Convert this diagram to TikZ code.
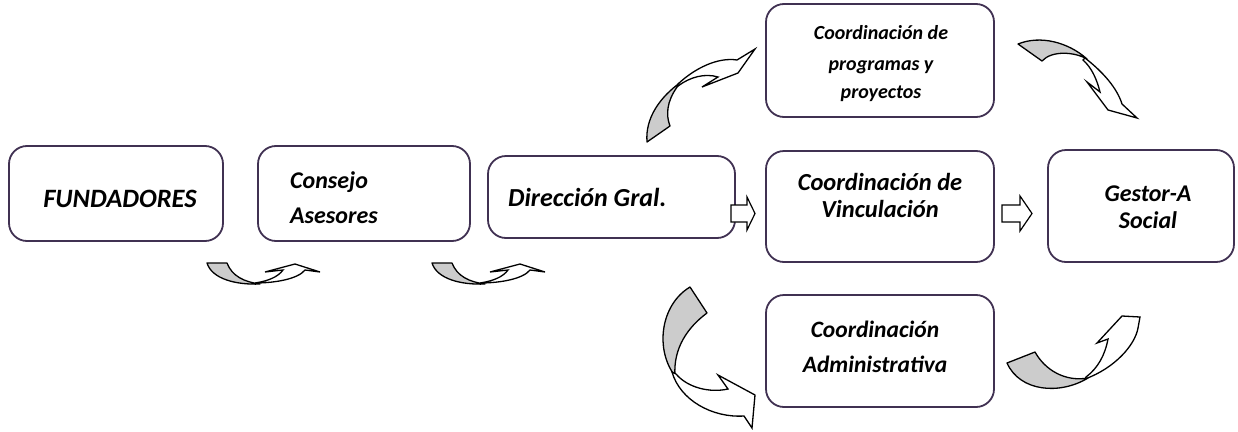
\documentclass[tikz,border=0pt]{standalone}
\usepackage{fontspec}
\setmainfont{Carlito}
\usetikzlibrary{calc}
\definecolor{boxline}{RGB}{64,49,82}
\definecolor{arrowgray}{RGB}{204,204,204}
\newcommand{\lblsize}[1]{\fontsize{#1}{#1}\selectfont\bfseries\itshape}
\begin{document}
\begin{tikzpicture}[x=1pt,y=-1pt,
  orgbox/.style={draw=boxline, line width=1.8pt, rounded corners=18pt, inner sep=0pt, outer sep=0pt, rectangle},
  lbl/.style={inner sep=0pt, anchor=base},
  lblw/.style={inner sep=0pt, anchor=base west},
  backface/.style={draw=black, fill=arrowgray, line width=1.3pt, line join=round},
  frontface/.style={draw=black, fill=white, line width=1.3pt, line join=miter},
  blockarr/.style={draw=black, fill=white, line width=1.2pt, line join=miter},
]
\useasboundingbox (0,0) rectangle (1238,431);

% boxes
\node[orgbox, minimum width=214pt, minimum height=95pt] (fund) at (116,193.5) {};
\node[orgbox, minimum width=212pt, minimum height=95pt] (cons) at (364,193.5) {};
\node[orgbox, minimum width=247pt, minimum height=82pt] (dir) at (611.5,197) {};
\node[orgbox, minimum width=228pt, minimum height=113pt] (prog) at (880,60.5) {};
\node[orgbox, minimum width=228pt, minimum height=111pt] (vinc) at (880,206.5) {};
\node[orgbox, minimum width=186pt, minimum height=112pt] (gest) at (1141,206) {};
\node[orgbox, minimum width=228pt, minimum height=112pt] (admin) at (880,351) {};

% texts
\node[lbl, font=\lblsize{26.5}] (tfund) at (120,207) {FUNDADORES};
\node[lblw, font=\lblsize{24}] (tcons1) at (290,188) {Consejo};
\node[lblw, font=\lblsize{24}] (tcons2) at (290,223) {Asesores};
\node[lblw, font=\lblsize{26}] (tdir) at (508,206) {Dirección Gral.};
\node[lbl, font=\lblsize{20}] (tprog1) at (881,39) {Coordinación de};
\node[lbl, font=\lblsize{20}] (tprog2) at (881,70) {programas y};
\node[lbl, font=\lblsize{20}] (tprog3) at (881,98) {proyectos};
\node[lbl, font=\lblsize{24.5}] (tvinc1) at (880,190) {Coordinación de};
\node[lbl, font=\lblsize{24.5}] (tvinc2) at (880,217) {Vinculación};
\node[lbl, font=\lblsize{24}] (tgest1) at (1148,201) {Gestor-A};
\node[lbl, font=\lblsize{24}] (tgest2) at (1148,228) {Social};
\node[lbl, font=\lblsize{23.5}] (tadm1) at (875,337) {Coordinación};
\node[lbl, font=\lblsize{23.5}] (tadm2) at (875,372) {Administrativa};

% small block arrows
\draw[blockarr] (731,205) -- (747,205) -- (747,197) -- (755,213.5) -- (747,230) -- (747,222) -- (731,222) -- cycle;
\draw[blockarr] (1002,205) -- (1020,205) -- (1020,196) -- (1032,213.5) -- (1020,231) -- (1020,222) -- (1002,222) -- cycle;

% curved arrow A and B (under Fundadores and Consejo)
\foreach \dx in {0,225}{
\begin{scope}[shift={(\dx,0)}]
\draw[backface] (207,263) -- (227,263) .. controls (232,276) and (244,282) .. (260,284)
   .. controls (236,285) and (212,279) .. (207,263) -- cycle;
\draw[frontface] (255,283) .. controls (275,283) and (298,279) .. (305,270) -- (320,272) -- (295,264)
   -- (265,272) -- (283,270) .. controls (278,277) and (268,281) .. (255,283) -- cycle;
\end{scope}
}

% curved arrow C (Direccion -> programas)
\draw[backface] (647,142) .. controls (645,118) and (660,97) .. (681,82)
   .. controls (670,95) and (664,110) .. (670,126) -- cycle;
\draw[frontface] (678,84) .. controls (695,68) and (718,57) .. (737,60) -- (755,49) -- (738,73)
   -- (702,87) -- (718,77) .. controls (705,73) and (690,77) .. (678,86) -- cycle;

% curved arrow D (programas -> Gestor)
\draw[backface] (1018,44) .. controls (1040,35) and (1068,42) .. (1087,59)
   .. controls (1075,52) and (1052,50) .. (1042,61) -- cycle;
\draw[frontface] (1085,58) .. controls (1103,72) and (1117,88) .. (1122,104) -- (1137,118) -- (1108,110)
   -- (1087,82) -- (1100,92) .. controls (1097,80) and (1092,68) .. (1083,60) -- cycle;

% curved arrow E (Direccion -> Administrativa)
\draw[backface] (690,287) -- (707,313) .. controls (688,327) and (673,348) .. (675,376)
   .. controls (655,350) and (660,305) .. (690,287) -- cycle;
\draw[frontface] (672,372) .. controls (680,400) and (712,418) .. (744,416) -- (752,428) -- (755,395)
   -- (718,375) -- (728,389) .. controls (710,393) and (688,388) .. (676,374) -- cycle;

% curved arrow F (Administrativa -> Gestor)
\draw[backface] (1007,363) -- (1035,352) .. controls (1045,370) and (1065,382) .. (1088,378)
   .. controls (1060,395) and (1020,392) .. (1007,363) -- cycle;
\draw[frontface] (1085,379) .. controls (1115,368) and (1135,345) .. (1138,328) -- (1140,317) -- (1122,316)
   -- (1097,343) -- (1108,339) .. controls (1105,355) and (1098,368) .. (1086,377) -- cycle;
\end{tikzpicture}
\end{document}
